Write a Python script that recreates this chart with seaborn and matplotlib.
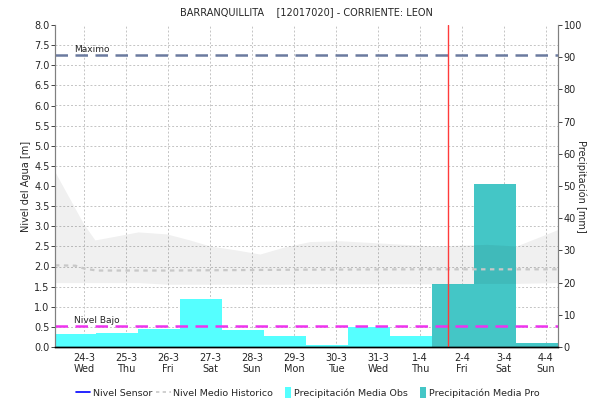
import numpy as np
import pandas as pd
import matplotlib
matplotlib.use("Agg")
import matplotlib.pyplot as plt
import seaborn as sns
from matplotlib.lines import Line2D
from matplotlib.patches import Patch, Rectangle
from matplotlib.legend_handler import HandlerPatch

# dias contados desde 24-3 00:00
dias_tick = list(range(12))
etiquetas = ["24-3\nWed", "25-3\nThu", "26-3\nFri", "27-3\nSat", "28-3\nSun", "29-3\nMon",
             "30-3\nTue", "31-3\nWed", "1-4\nThu", "2-4\nFri", "3-4\nSat", "4-4\nSun"]

# precipitacion diaria [mm], cada barra va de dia-0.71 a dia+0.29
precip_dia = list(range(12))
precip_mm = [4.1, 4.3, 5.7, 14.9, 5.4, 3.4, 0.6, 6.1, 3.5, 19.5, 50.5, 1.3]
precip_tipo = ["Obs"] * 9 + ["Pro"] * 3

# banda historica (min / max) y nivel medio historico [m]
banda_dia = [-0.69, -0.02, 0.26, 0.78, 1.29, 1.97, 2.52, 3.0, 3.64, 4.19, 4.75, 5.38,
             6.1, 7.13, 8.32, 9.59, 10.3, 11.29]
banda_max = [4.35, 3.08, 2.66, 2.76, 2.86, 2.81, 2.66, 2.51, 2.41, 2.31, 2.48, 2.62,
             2.64, 2.58, 2.51, 2.55, 2.51, 2.92]
banda_min = [1.60, 1.60, 1.60, 1.60, 1.60, 1.56, 1.56, 1.56, 1.56, 1.56, 1.56, 1.57,
             1.57, 1.57, 1.57, 1.58, 1.58, 1.60]
medio_dia = [-0.69, -0.2, 0.0, 0.3, 2.0, 5.0, 8.0, 11.29]
medio_nivel = [2.03, 2.02, 1.95, 1.90, 1.90, 1.92, 1.93, 1.93]

nivel_maximo = 7.25
nivel_bajo = 0.52
ahora = 8.67

sns.set_style("white")
plt.rcParams['font.family'] = ['DejaVu Sans']

fig = plt.figure(figsize=(5.92, 4.01), dpi=100)
ax_p = fig.add_axes([55 / 592, 1 - 347 / 401, (558 - 55) / 592, (347 - 25) / 401])

# barras de precipitacion
df = pd.DataFrame({"centro": np.array(precip_dia) - 0.21, "mm": precip_mm, "tipo": precip_tipo})
bordes = [round(-0.71 + k, 2) for k in range(13)]
sns.histplot(data=df, x="centro", weights="mm", hue="tipo", bins=bordes, multiple="layer",
             palette={"Obs": "#55FFFF", "Pro": "#44C6C6"}, alpha=1, linewidth=0,
             legend=False, ax=ax_p)

# nivel del agua (eje gemelo, dibujado encima de las barras)
ax_l = ax_p.twinx()

ax_p.set_xlim(-0.69, 11.29)
ax_p.set_ylim(0, 100)
ax_p.yaxis.tick_right()
ax_p.yaxis.set_label_position("right")
ax_p.set_yticks(range(0, 101, 10))
ax_p.set_yticks(np.arange(0, 100.1, 6.25), minor=True)
ax_p.set_ylabel("Precipitación [mm]", rotation=270, labelpad=3, fontsize=7)
ax_p.set_xlabel("")
ax_p.set_xticks(dias_tick)
ax_p.set_xticklabels(etiquetas, fontsize=7)
ax_p.tick_params(axis="y", which="major", labelsize=7, length=3, width=0.6, pad=1)
ax_p.tick_params(axis="y", which="minor", length=0)
ax_p.tick_params(axis="x", length=2, width=0.6, pad=2)
ax_p.grid(False)
ax_p.grid(True, axis="x", which="major", linestyle=(0, (2, 2)), color="#c4c4c4", lw=0.7)
ax_p.grid(True, axis="y", which="minor", linestyle=(0, (2, 2)), color="#c4c4c4", lw=0.7)

ax_l.yaxis.tick_left()
ax_l.yaxis.set_label_position("left")
ax_l.fill_between(banda_dia, banda_min, banda_max, color="black", alpha=0.06, lw=0)
sns.lineplot(x=medio_dia, y=medio_nivel, ax=ax_l, color="#c8c8c8", lw=1.6,
             linestyle=(0, (2, 2)))
ax_l.axhline(nivel_maximo, color="#6B7A9F", lw=1.8, linestyle=(0, (5, 3)))
ax_l.axhline(nivel_bajo, color="#EE33EE", lw=1.8, linestyle=(0, (5, 3)))
ax_l.axvline(ahora, color="#ff3b3b", lw=1)
ax_l.text(-0.23, nivel_maximo + 0.02, "Maximo", fontsize=6.5, va="bottom")
ax_l.text(-0.23, nivel_bajo + 0.02, "Nivel Bajo", fontsize=6.5, va="bottom")

ax_l.set_ylim(0, 8)
ax_l.set_xlim(-0.69, 11.29)
ax_l.set_yticks(np.arange(0, 8.01, 0.5))
ax_l.set_yticklabels([f"{v:.1f}" for v in np.arange(0, 8.01, 0.5)])
ax_l.tick_params(axis="y", labelsize=7, length=3, width=0.6, pad=1)
ax_l.set_ylabel("Nivel del Agua [m]", fontsize=7, labelpad=2)

for a in (ax_p, ax_l):
    a.spines["top"].set_visible(False)
    a.spines["left"].set_color("#808080")
    a.spines["right"].set_color("#808080")
    a.spines["bottom"].set_color("black")
    a.spines["bottom"].set_linestyle((0, (1, 1)))
    a.spines["bottom"].set_linewidth(1)

ax_l.set_title("BARRANQUILLITA    [12017020] - CORRIENTE: LEON", fontsize=7, pad=7)


def parche_estrecho(legend, orig_handle, xdescent, ydescent, width, height, fontsize):
    # cuadro angosto pegado al texto, como en la leyenda original
    return Rectangle((width - xdescent - 4.5, -ydescent - 1), 4.5, height + 2)


handles = [
    Line2D([], [], color="blue", lw=1.2),
    Line2D([], [], color="#c8c8c8", lw=1.2, linestyle=(0, (2, 2))),
    Patch(facecolor="#55FFFF", edgecolor="none"),
    Patch(facecolor="#44C6C6", edgecolor="none"),
]
nombres = ["Nivel Sensor", "Nivel Medio Historico", "Precipitación Media Obs", "Precipitación Media Pro"]
fig.legend(handles, nombres, loc="center", bbox_to_anchor=(0.52, 0.02), ncol=4, frameon=False,
           fontsize=6.8, handlelength=1.5, handleheight=1.0, handletextpad=0.3, columnspacing=0.4,
           handler_map={Patch: HandlerPatch(patch_func=parche_estrecho)})

fig.savefig("out.png", dpi=100)
